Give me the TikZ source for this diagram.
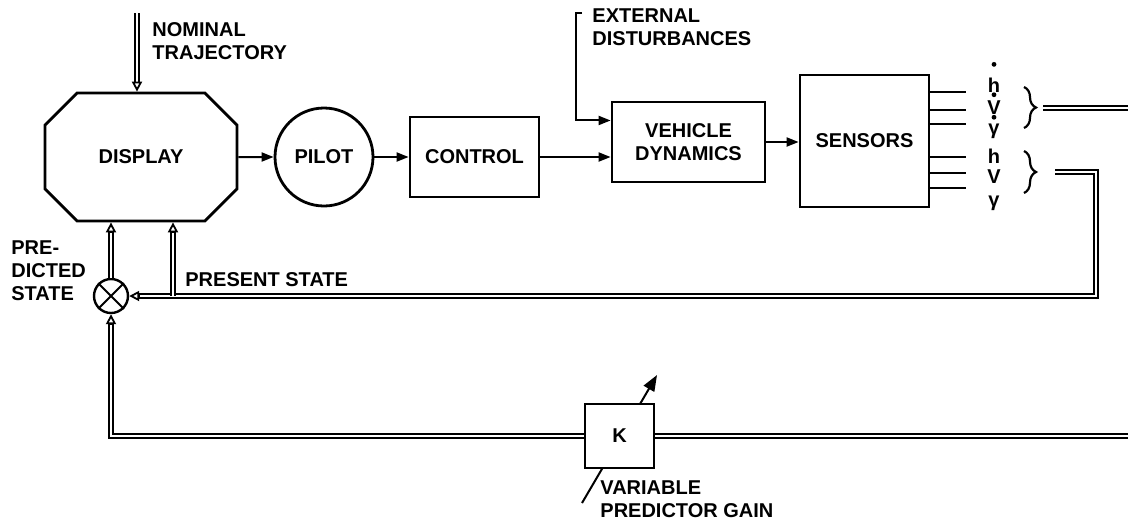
\documentclass[tikz,border=0pt]{standalone}
\usepackage{fontspec}
\setmainfont{Liberation Sans}
\usepackage{tikz}
\usetikzlibrary{arrows.meta,shapes.misc,decorations.pathreplacing,calc}

\begin{document}
\begin{tikzpicture}[x=0.5pt,y=-0.5pt,font=\fontsize{10}{11.5}\selectfont\bfseries,
  blk/.style={draw,line width=1.4pt,inner sep=0pt},
  arr/.style={line width=1pt,-{Triangle[length=6pt,width=4.5pt]}},
  dbl/.style={double,line width=0.8pt,double distance=1.3pt},
  otip/.style={line width=0.9pt,-{Triangle[open,length=5pt,width=5pt]}},
  lbl/.style={align=left,inner sep=0pt,anchor=north west},
  var/.style={inner sep=0pt}]
  \useasboundingbox (0,0) rectangle (1128,521);
  % blocks of the forward path
  \node[blk,chamfered rectangle,chamfered rectangle xsep=12.5pt,chamfered rectangle ysep=12.5pt,
        minimum width=96pt,minimum height=64pt] (disp) at (141,157) {DISPLAY};
  \node[blk,circle,minimum size=49pt] (pilot) at (324,157) {PILOT};
  \node[blk,minimum width=64.5pt,minimum height=40pt] (ctrl) at (474.5,157) {CONTROL};
  \node[blk,minimum width=76.5pt,minimum height=40pt,align=center] (vd) at (688.5,142) {VEHICLE\\DYNAMICS};
  \node[blk,minimum width=64.5pt,minimum height=66pt] (sens) at (864.5,141) {SENSORS};
  \node[draw,circle,line width=1.2pt,minimum size=17pt,inner sep=0pt] (sum) at (111,296) {};
  \draw[line width=1pt] (sum.north east) -- (sum.south west) (sum.north west) -- (sum.south east);
  \draw[arr] (disp) -- (pilot);
  \draw[arr] (pilot) -- (ctrl);
  \draw[arr] (ctrl.east) -- (ctrl.east -| vd.west);
  \draw[arr] (vd.east) -- (vd.east -| sens.west);
  % inputs from above
  \coordinate (ext) at (576,13);
  \draw[arr] ($(ext)+(6,0)$) -- (ext) |- ($(vd.north west)!0.24!(vd.south west)$);
  \node[lbl] (extlbl) at (592,8) {EXTERNAL\\DISTURBANCES};
  \coordinate (nom) at (137,13);
  \draw[dbl,shorten >=5pt] (nom) -- (nom |- disp.north);
  \draw[otip] ($(nom |- disp.north)+(0,-10)$) -- (nom |- disp.north);
  \node[lbl] (nomlbl) at (152,22) {NOMINAL\\TRAJECTORY};
  % sensor outputs
  \foreach \yy in {92,110,124,157,173,188}
    \draw[line width=1pt] (sens.east |- 0,\yy) -- ++(36,0);
  \node[var] (hdot) at (994,85) {h};
  \node[var] (vdot) at (994,108) {V};
  \node[var] (gdot) at (994,131) {γ};
  \fill ($(hdot.north)+(0,-13)$) circle (1.2pt);
  \fill ($(vdot.north)+(0,-6)$) circle (1.2pt);
  \fill ($(gdot.north)+(0,-6)$) circle (1.2pt);
  \node[var] (hh) at (994,156) {h};
  \node[var] (vv) at (994,177) {V};
  \node[var] (gg) at (994,203) {γ};
  \draw[line width=1.1pt,decorate,decoration={brace,amplitude=6pt}] (1024,87) -- (1024,128);
  \draw[line width=1.1pt,decorate,decoration={brace,amplitude=6pt}] (1024,151) -- (1024,193);
  \coordinate (br1) at (1043,108);
  \coordinate (br2) at (1055,172);
  \coordinate (rt) at (1096,296);
  \coordinate (edge1) at (1128,108);
  \coordinate (edge2) at (1128,436);
  \draw[dbl] (br1) -- (edge1);
  % present state feedback
  \draw[dbl,shorten >=5pt] (br2) -| (rt) -- (sum.east);
  \draw[otip] ($(sum.east)+(10,0)$) -- (sum.east);
  \coordinate (ps) at (173,296);
  \draw[dbl,shorten >=5pt] (ps) -- (ps |- disp.south);
  \draw[otip] ($(ps |- disp.south)+(0,10)$) -- (ps |- disp.south);
  \node[lbl] (preslbl) at (185,272) {PRESENT STATE};
  \draw[dbl,shorten >=5pt] (sum.north) -- (sum.north |- disp.south);
  \draw[otip] ($(sum.north |- disp.south)+(0,10)$) -- (sum.north |- disp.south);
  \node[lbl] (predlbl) at (11,240) {PRE-\\DICTED\\STATE};
  % predictor gain
  \coordinate (g1) at (582,503);
  \coordinate (g2) at (657,375);
  \draw[line width=1pt,-{Triangle[length=8pt,width=6pt]}] (g1) -- (g2);
  \node[blk,fill=white,minimum width=34.5pt,minimum height=32pt] (kbox) at (619.5,436) {K};
  \draw[dbl] (edge2) -- (kbox.east);
  \draw[dbl,shorten >=5pt] (kbox.west) -| (sum.south);
  \draw[otip] ($(sum.south)+(0,10)$) -- (sum.south);
  \node[lbl] (gainlbl) at (600,480) {VARIABLE\\PREDICTOR GAIN};
\end{tikzpicture}
\end{document}
